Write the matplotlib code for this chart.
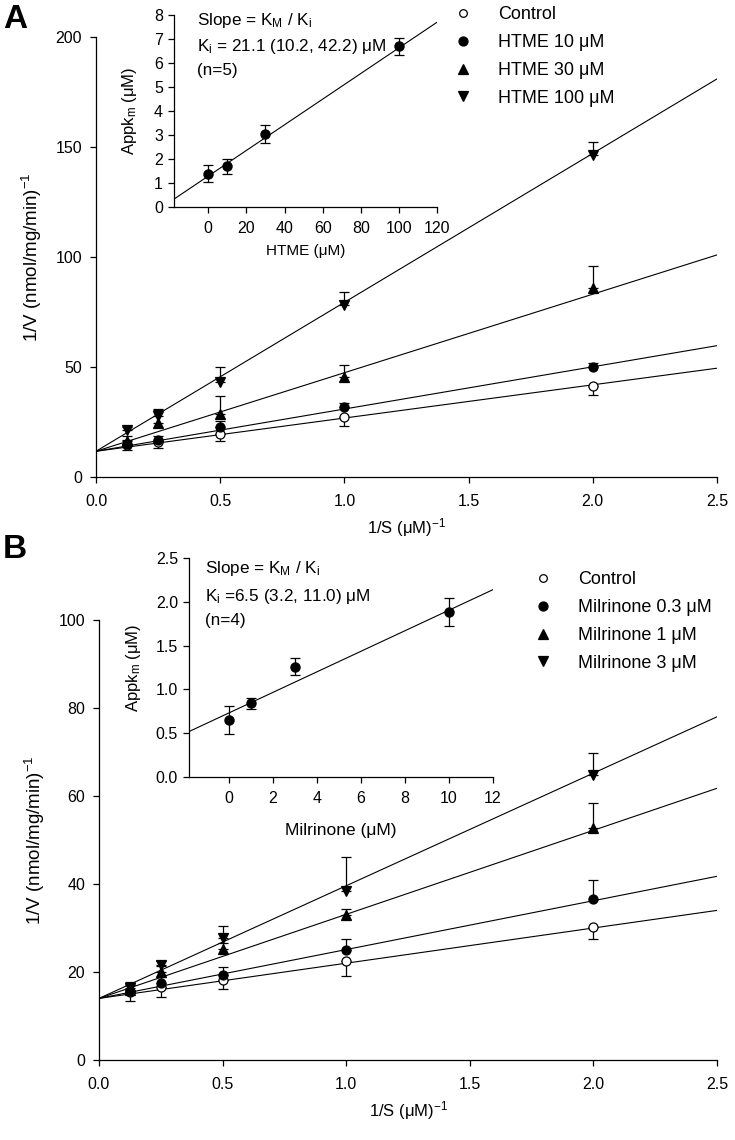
import matplotlib
matplotlib.use("Agg")
import matplotlib.pyplot as plt
from matplotlib.lines import Line2D
import numpy as np

plt.rcParams['font.family'] = ['Liberation Sans', 'DejaVu Sans']
plt.rcParams['mathtext.fontset'] = 'custom'
plt.rcParams['mathtext.rm'] = 'Liberation Sans'
plt.rcParams['mathtext.it'] = 'Liberation Sans'
plt.rcParams['mathtext.bf'] = 'Liberation Sans:bold'

# ---------------- data ----------------
inv_s = [0.125, 0.25, 0.5, 1.0, 2.0]

a_labels = ['Control', 'HTME 10 \u03bcM', 'HTME 30 \u03bcM', 'HTME 100 \u03bcM']
a_ctrl = [14.5, 15.7, 19.5, 27.4, 41.5]
a_ctrl_err = [2.0, 2.5, 3.0, 4.0, 4.0]
a_h10 = [14.9, 16.8, 22.9, 31.7, 50.0]
a_h10_err = [2.0, 2.0, 2.5, 2.0, 2.0]
a_h30 = [16.5, 24.4, 28.7, 45.4, 85.7]
a_h30_err = [2.0, 6.0, 7.9, 5.6, 10.0]
a_h100 = [21.3, 27.7, 43.0, 78.0, 146.5]
a_h100_err = [1.5, 3.0, 7.0, 6.0, 6.0]
a_fit_intercept = [11.7, 11.7, 11.7, 11.7]
a_fit_slope = [15.1, 19.2, 35.7, 67.7]

b_labels = ['Control', 'Milrinone 0.3 \u03bcM', 'Milrinone 1 \u03bcM', 'Milrinone 3 \u03bcM']
b_ctrl = [15.4, 16.5, 18.2, 22.4, 30.2]
b_ctrl_err = [2.1, 2.2, 2.0, 3.2, 2.8]
b_m03 = [15.6, 17.4, 19.4, 25.0, 36.6]
b_m03_err = [1.5, 1.5, 1.8, 2.6, 4.4]
b_m1 = [15.9, 19.9, 25.2, 32.9, 52.7]
b_m1_err = [1.5, 1.5, 1.5, 1.5, 5.7]
b_m3 = [16.3, 21.6, 27.7, 38.3, 64.8]
b_m3_err = [1.5, 1.0, 2.8, 7.8, 5.0]
b_fit_intercept = [14.0, 14.0, 14.0, 14.0]
b_fit_slope = [8.0, 11.1, 19.1, 25.6]

ia_conc = [0, 10, 30, 100]
ia_km = [1.39, 1.69, 3.04, 6.69]
ia_err = [0.35, 0.30, 0.38, 0.35]
ia_fit = (1.29, 0.0534)

ib_conc = [0, 1, 3, 10]
ib_km = [0.65, 0.84, 1.26, 1.88]
ib_err = [0.16, 0.06, 0.10, 0.16]
ib_fit = (0.73, 0.1174)

markers = ['o', 'o', '^', 'v']
faces = ['white', 'black', 'black', 'black']

W, H = 735, 1140
fig = plt.figure(figsize=(W / 100, H / 100), dpi=100)


def rect(l, t, r, b):
    return [l / W, 1 - b / H, (r - l) / W, (b - t) / H]


def style(ax, fs, xpad, ypad):
    for s in ['top', 'right']:
        ax.spines[s].set_visible(False)
    for s in ['left', 'bottom']:
        ax.spines[s].set_linewidth(0.9)
    ax.tick_params(direction='out', length=4, width=0.9, labelsize=fs)
    ax.tick_params(axis='x', pad=xpad)
    ax.tick_params(axis='y', pad=ypad)


def main_panel(ax, series, errs, intercepts, slopes, ylim, yticks):
    xx = np.array([0.0, 2.5])
    for k in range(4):
        ax.plot(xx, intercepts[k] + slopes[k] * xx, color='black', lw=0.8, zorder=1)
    for k in range(4):
        e = np.array(errs[k])
        z = np.zeros_like(e)
        yerr = [e, z] if k == 0 else [z, e]
        ax.errorbar(inv_s, series[k], yerr=yerr, fmt=markers[k], ms=6.5,
                    mfc=faces[k], mec='black', mew=0.9, ecolor='black',
                    elinewidth=0.9, capsize=3.5, capthick=0.9, zorder=3 + k)
    ax.set_xlim(0, 2.5)
    ax.set_ylim(*ylim)
    ax.set_xticks([0.0, 0.5, 1.0, 1.5, 2.0, 2.5])
    ax.set_xticklabels(['0.0', '0.5', '1.0', '1.5', '2.0', '2.5'])
    ax.set_yticks(yticks)
    style(ax, 11.5, 8, 6)
    ax.set_xlabel('1/S (\u03bcM)$^{\\mathregular{-1}}$', fontsize=12, labelpad=5)
    ax.set_ylabel('1/V (nmol/mg/min)$^{\\mathregular{-1}}$', fontsize=13.5, labelpad=8)


def inset(ax, xs, ys, es, fit, xlim, xticks, ylim, yticks, yfmt, xlabel, xlfs, xlpad, ylpad):
    xx = np.array(xlim)
    ax.plot(xx, fit[0] + fit[1] * xx, color='black', lw=0.8, zorder=1)
    ax.errorbar(xs, ys, yerr=es, fmt='o', ms=6.5, mfc='black', mec='black',
                ecolor='black', elinewidth=0.9, capsize=3.5, capthick=0.9, zorder=3)
    ax.set_xlim(*xlim)
    ax.set_ylim(*ylim)
    ax.set_xticks(xticks)
    ax.set_yticks(yticks)
    ax.set_yticklabels([yfmt.format(v) for v in yticks])
    ax.patch.set_alpha(0)
    style(ax, 11.5, 6, 4)
    ax.set_xlabel(xlabel, fontsize=xlfs, labelpad=xlpad)
    ax.set_ylabel('Appk$_{\\mathregular{m}}$ (\u03bcM)', fontsize=12, labelpad=ylpad)


# ---------------- panel A ----------------
axA = fig.add_axes(rect(96, 37, 717, 477))
main_panel(axA, [a_ctrl, a_h10, a_h30, a_h100],
           [a_ctrl_err, a_h10_err, a_h30_err, a_h100_err],
           a_fit_intercept, a_fit_slope, (0, 200), [0, 50, 100, 150, 200])

axAi = fig.add_axes(rect(174, 15, 437, 207))
inset(axAi, ia_conc, ia_km, ia_err, ia_fit, (-18, 120), [0, 20, 40, 60, 80, 100, 120],
      (0, 8), list(range(0, 9)), '{:d}', 'HTME (\u03bcM)', 11, 6, 11)

tfs = 12.3
fig.text(197 / W, 1 - 20 / H, 'Slope = K$_{\\mathregular{M}}$ / K$_{\\mathregular{i}}$',
         fontsize=tfs, va='center', ha='left')
fig.text(197 / W, 1 - 47 / H, 'K$_{\\mathregular{i}}$ = 21.1 (10.2, 42.2) \u03bcM',
         fontsize=tfs, va='center', ha='left')
fig.text(197 / W, 1 - 71 / H, '(n=5)', fontsize=tfs, va='center', ha='left')

# ---------------- panel B ----------------
axB = fig.add_axes(rect(99, 620, 717, 1060))
main_panel(axB, [b_ctrl, b_m03, b_m1, b_m3],
           [b_ctrl_err, b_m03_err, b_m1_err, b_m3_err],
           b_fit_intercept, b_fit_slope, (0, 100), [0, 20, 40, 60, 80, 100])

axBi = fig.add_axes(rect(189, 558, 493, 777))
inset(axBi, ib_conc, ib_km, ib_err, ib_fit, (-1.8, 12), [0, 2, 4, 6, 8, 10, 12],
      (0, 2.5), [0.0, 0.5, 1.0, 1.5, 2.0, 2.5], '{:.1f}', 'Milrinone (\u03bcM)', 12.5, 12, 9)

fig.text(205 / W, 1 - 569 / H, 'Slope = K$_{\\mathregular{M}}$ / K$_{\\mathregular{i}}$',
         fontsize=tfs, va='center', ha='left')
fig.text(205 / W, 1 - 597 / H, 'K$_{\\mathregular{i}}$ =6.5 (3.2, 11.0) \u03bcM',
         fontsize=tfs, va='center', ha='left')
fig.text(205 / W, 1 - 621 / H, '(n=4)', fontsize=tfs, va='center', ha='left')

# ---------------- legends ----------------
def handles():
    return [Line2D([], [], ls='none', marker=markers[k], ms=6.5 if k else 5.5,
                   mfc=faces[k], mec='black', mew=0.9) for k in range(4)]

lfs = 13
fig.legend(handles(), a_labels, loc='upper left', bbox_to_anchor=(447 / W, 1 + 1 / H),
           frameon=False, fontsize=lfs, handlelength=1.0, handletextpad=1.44,
           labelspacing=0.6, borderaxespad=0)
fig.legend(handles(), b_labels, loc='upper left', bbox_to_anchor=(527 / W, 1 - 564 / H),
           frameon=False, fontsize=lfs, handlelength=1.0, handletextpad=1.44,
           labelspacing=0.6, borderaxespad=0)

fig.text(3 / W, 1 - 19 / H, 'A', fontsize=24, fontweight='bold', va='center', ha='left')
fig.text(3 / W, 1 - 549 / H, 'B', fontsize=24, fontweight='bold', va='center', ha='left')

fig.savefig('out.png', dpi=100)
